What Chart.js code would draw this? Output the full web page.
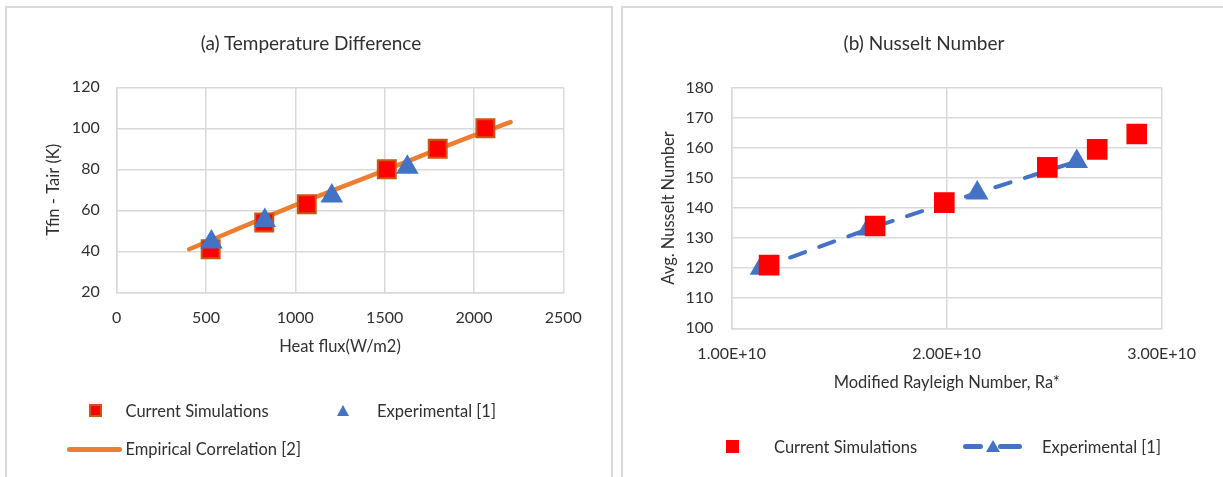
<!DOCTYPE html>
<html>
<head>
<meta charset="utf-8">
<script src="https://cdn.jsdelivr.net/npm/chart.js@4.4.1/dist/chart.umd.min.js"></script>
<style>
  html, body { margin: 0; padding: 0; background: #fff; overflow: hidden; width: 1223px; height: 477px; }
  body { position: relative; font-family: Lato, "Noto Sans", sans-serif; color: #303030; }
  .box { position: absolute; border: 2px solid #d9d9d9; box-sizing: border-box; }
  canvas { position: absolute; }
  .title { position: absolute; font-size: 19px; transform: translate(-50%, -50%); white-space: nowrap; }
  .leg { position: absolute; font-size: 16.5px; transform: translateY(-50%); white-space: nowrap; }
  .mk { position: absolute; }
</style>
</head>
<body>
<div class="box" style="left:5px;top:6px;width:608px;height:480px"></div>
<div class="box" style="left:621px;top:6px;width:620px;height:480px"></div>
<canvas id="chartA" width="605" height="470" style="left:6px;top:7px"></canvas>
<canvas id="chartB" width="601" height="470" style="left:622px;top:7px"></canvas>
<div class="title" style="left:311px;top:42px">(a) Temperature Difference</div>
<div class="title" style="left:924px;top:42px">(b) Nusselt Number</div>
<div id="legends"></div>
<script>
// (a) temperature difference vs heat flux
var fluxSim = [526, 826, 1064, 1512, 1797, 2064];
var dtSim = [41, 54, 63, 80, 90, 100];
var fluxExp = [530, 829, 1204, 1627];
var dtExp = [44.5, 55, 67, 81];
var fluxCorr = [405, 1000, 1500, 2000, 2205];
var dtCorr = [41, 62.5, 79.5, 96.5, 103];

// (b) Nusselt number vs modified Rayleigh number
var raSim = [1.174e10, 1.667e10, 1.989e10, 2.468e10, 2.70e10, 2.884e10];
var nuSim = [121, 134, 141.8, 153.5, 159.5, 164.6];
var raExp = [1.136e10, 1.635e10, 2.142e10, 2.605e10];
var nuExp = [120, 133, 145, 155.5];

var labelSim = "Current Simulations";
var labelExp = "Experimental [1]";
var labelCorr = "Empirical Correlation [2]";

var gridColor = "#d9d9d9";
var red = "#ff0000";
var brown = "#c55a11";
var blue = "#4472c4";
var orange = "#ed7d31";

function pts(xs, ys) {
    return xs.map(function (x, i) { return { x: x, y: ys[i] }; });
}

Chart.defaults.font.family = 'Lato, "Noto Sans", sans-serif';
Chart.defaults.font.size = 16;
Chart.defaults.color = "#303030";

function axis(min, max, step, title, isX, extra) {
    var a = {
        type: "linear",
        min: min,
        max: max,
        ticks: { stepSize: step, padding: isX ? 15.5 : 17, callback: function (v) { return String(v); } },
        grid: { color: gridColor, lineWidth: 1.5, drawTicks: false },
        border: { color: gridColor, width: 1.5 },
        title: {
            display: true,
            text: title,
            font: { size: 16.5 },
            padding: isX ? { top: 0, bottom: 16 } : { top: 27.5, bottom: 0 },
        },
        afterFit: isX ? function (s) { s.height = 80; } : function (s) { s.width = 100; },
    };
    if (extra) extra(a);
    return a;
}

new Chart(document.getElementById("chartA"), {
    type: "scatter",
    data: {
        datasets: [
            {
                label: labelExp,
                data: pts(fluxExp, dtExp),
                pointStyle: "triangle",
                pointRadius: 13,
                pointBorderWidth: 0,
                pointBackgroundColor: blue,
                showLine: false,
            },
            {
                label: labelSim,
                data: pts(fluxSim, dtSim),
                pointStyle: "rect",
                pointRadius: 12.7,
                pointBorderWidth: 2,
                pointBorderColor: brown,
                pointBackgroundColor: red,
                showLine: false,
            },
            {
                label: labelCorr,
                data: pts(fluxCorr, dtCorr),
                showLine: true,
                pointRadius: 0,
                borderColor: orange,
                borderWidth: 4.5,
                borderCapStyle: "round",
                cubicInterpolationMode: "monotone",
            },
        ],
    },
    options: {
        responsive: false,
        animation: false,
        layout: { padding: { left: 10.7, right: 47.7, top: 80.3, bottom: 104.7 } },
        plugins: { legend: { display: false }, tooltip: { enabled: false } },
        scales: {
            x: axis(0, 2500, 500, "Heat flux(W/m2)", true),
            y: axis(20, 120, 20, "Tfin - Tair (K)", false),
        },
    },
});

new Chart(document.getElementById("chartB"), {
    type: "scatter",
    data: {
        datasets: [
            {
                label: labelSim,
                data: pts(raSim, nuSim),
                pointStyle: "rect",
                pointRadius: 14.6,
                pointBorderWidth: 0,
                pointBackgroundColor: red,
                showLine: false,
            },
            {
                label: labelExp,
                data: pts(raExp, nuExp),
                pointStyle: "triangle",
                pointRadius: 13,
                pointBorderWidth: 0,
                pointBackgroundColor: blue,
                showLine: true,
                borderColor: blue,
                borderWidth: 4,
                borderDash: [16, 15],
                borderCapStyle: "round",
            },
        ],
    },
    options: {
        responsive: false,
        animation: false,
        layout: { padding: { left: 9.7, right: 61.3, top: 80.7, bottom: 68.7 } },
        plugins: { legend: { display: false }, tooltip: { enabled: false } },
        scales: {
            x: axis(1e10, 3e10, 1e10, "Modified Rayleigh Number, Ra*", true, function (a) {
                a.ticks.callback = function (v) { return v.toExponential(2).toUpperCase(); };
            }),
            y: axis(100, 180, 10, "Avg. Nusselt Number", false, function (a) {
                a.ticks.padding = 18.4;
                a.title.padding = { top: 27, bottom: 0 };
            }),
        },
    },
});

// legends as html
var leg = document.getElementById("legends");
function add(html) { leg.insertAdjacentHTML("beforeend", html); }
function text(x, y, t) { add('<div class="leg" style="left:' + x + 'px;top:' + y + 'px">' + t + "</div>"); }
function square(cx, cy, size, fill, border) {
    var b = border ? "border:2px solid " + border + ";box-sizing:border-box;" : "";
    add('<div class="mk" style="left:' + (cx - size / 2) + "px;top:" + (cy - size / 2) + "px;width:" + size +
        "px;height:" + size + "px;background:" + fill + ";" + b + '"></div>');
}
function triangle(cx, cy, w, h) {
    add('<div class="mk" style="left:' + (cx - w / 2) + "px;top:" + (cy - h / 2) + "px;width:0;height:0;border-left:" +
        w / 2 + "px solid transparent;border-right:" + w / 2 + "px solid transparent;border-bottom:" + h + "px solid " + blue + '"></div>');
}
function bar(x1, x2, cy, th, color) {
    add('<div class="mk" style="left:' + x1 + "px;top:" + (cy - th / 2) + "px;width:" + (x2 - x1) + "px;height:" + th +
        "px;border-radius:" + th / 2 + "px;background:" + color + '"></div>');
}

square(95, 410.5, 13, red, brown);
text(125.5, 410.5, labelSim);
triangle(343, 410.5, 12, 11);
text(377, 410.5, labelExp);
bar(66.5, 122, 449.3, 5, orange);
text(125.5, 449.3, labelCorr);

square(732.5, 446.5, 13, red);
text(774, 446.5, labelSim);
bar(963, 983, 446.5, 5, blue);
triangle(993, 445.5, 14, 12);
bar(998, 1022, 446.5, 5, blue);
text(1042, 446.5, labelExp);
</script>
</body>
</html>
